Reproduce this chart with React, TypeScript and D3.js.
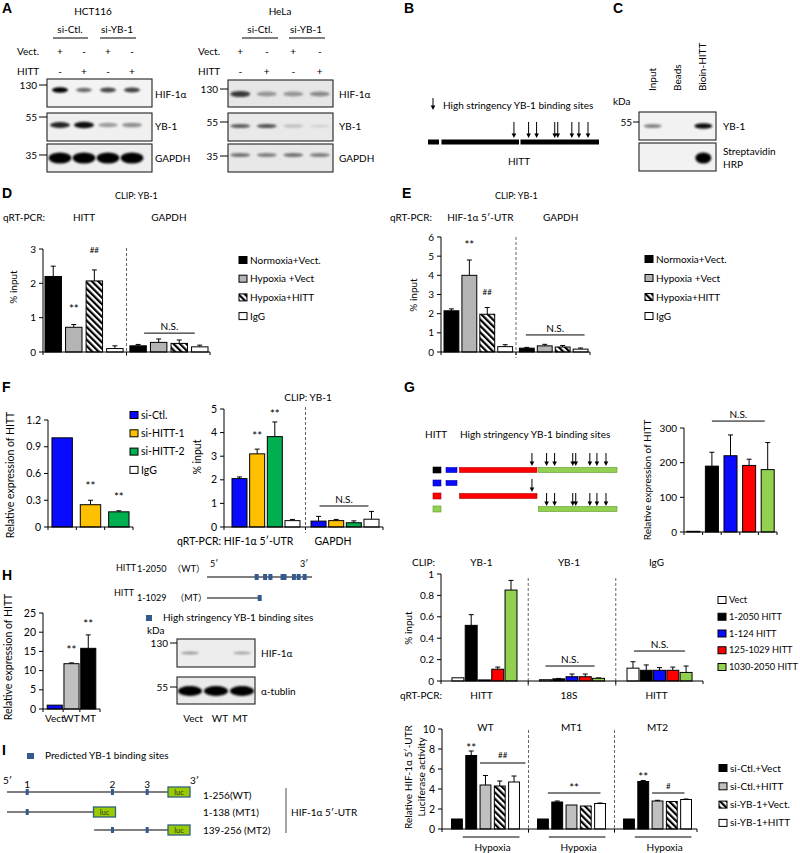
import React from "react";
import * as d3 from "d3";

const FONT = "Lato, 'Noto Sans', 'Noto Sans CJK SC', sans-serif";
const BOLD = "'Liberation Sans', Arial, sans-serif";
const FS = 10;

// ================= DATA =================
// Panel A
const laneVect = ["+", "-", "+", "-"];
const laneHitt = ["-", "+", "-", "+"];
const hctHif = [1.0, 0.55, 0.7, 0.72];
const hctYb1 = [0.85, 0.95, 0.35, 0.4];
const hctGapdh = [1, 1, 1, 1];
const helaHif = [0.75, 0.35, 0.35, 0.4];
const helaYb1 = [0.6, 0.65, 0.2, 0.1];
const helaGapdh = [0.5, 0.45, 0.5, 0.45];
// Panel B / G / H
const hittSegments = [[1, 124], [125, 1029], [1030, 2050]];
const bindingSites = [970, 1135, 1239, 1475, 1514, 1697, 1789, 1907];
// Panel C
const cLanes = ["Input", "Beads", "Bioin-HITT"];
const cYb1 = [0.45, 0, 0.95];
const cStrep = [0, 0, 1];
// Panel D
const dSeries = ["Normoxia+Vect.", "Hypoxia +Vect", "Hypoxia+HITT", "IgG"];
const dGroups = ["HITT", "GAPDH"];
const dValues = [[2.2, 0.72, 2.07, 0.1], [0.18, 0.28, 0.25, 0.15]];
const dErrors = [[0.3, 0.08, 0.32, 0.08], [0.04, 0.1, 0.1, 0.05]];
const dTicks = [0, 1, 2, 3];
// Panel E
const eGroups = ["HIF-1α 5′-UTR", "GAPDH"];
const eValues = [[2.15, 4.0, 1.97, 0.28], [0.2, 0.32, 0.26, 0.15]];
const eErrors = [[0.1, 0.8, 0.35, 0.1], [0.04, 0.08, 0.08, 0.06]];
const eTicks = [0, 1, 2, 3, 4, 5, 6];
// Panel F
const fSeries = ["si-Ctl.", "si-HITT-1", "si-HITT-2", "IgG"];
const fExprValues = [1.0, 0.25, 0.17];
const fExprErrors = [0, 0.05, 0.012];
const fExprTicks = [0, 0.3, 0.6, 0.9, 1.2];
const fClipValues = [[2.05, 3.1, 3.83, 0.27], [0.25, 0.27, 0.18, 0.33]];
const fClipErrors = [[0.07, 0.2, 0.62, 0.05], [0.2, 0.05, 0.08, 0.33]];
const fClipTicks = [0, 1, 2, 3, 4, 5];
// Panel G
const gSeries = ["Vect", "1-2050 HITT", "1-124 HITT", "125-1029 HITT", "1030-2050 HITT"];
const gExprValues = [2, 190, 220, 192, 180];
const gExprErrors = [0, 40, 60, 18, 78];
const gExprTicks = [0, 100, 200, 300];
const gClipTop = ["YB-1", "YB-1", "IgG"];
const gClipBottom = ["HITT", "18S", "HITT"];
const gClipValues = [
  [0.03, 0.52, 0.01, 0.11, 0.85],
  [0.012, 0.02, 0.04, 0.04, 0.025],
  [0.12, 0.1, 0.1, 0.1, 0.08],
];
const gClipErrors = [
  [0, 0.1, 0, 0.02, 0.09],
  [0, 0.004, 0.025, 0.025, 0.004],
  [0.06, 0.05, 0.025, 0.03, 0.06],
];
const gClipTicks = [0, 0.2, 0.4, 0.6, 0.8, 1];
// Panel H
const hCats = ["Vect", "WT", "MT"];
const hValues = [1, 11.8, 15.8];
const hErrors = [0, 0.2, 3.5];
const hTicks = [0, 5, 10, 15, 20, 25];
const hBlotHif = [0.35, 0, 0.3];
const hBlotTub = [1, 1, 1];
// Panel I
const utrConstructs = [[1, 256], [1, 138], [139, 256]];
const utrNames = ["1-256(WT)", "1-138 (MT1)", "139-256 (MT2)"];
const utrSites = [33, 168, 223];
const iSeries = ["si-Ctl.+Vect", "si-Ctl.+HITT", "si-YB-1+Vect.", "si-YB-1+HITT"];
const iGroups = ["WT", "MT1", "MT2"];
const iValues = [
  [1, 7.35, 4.4, 4.3, 4.7],
  [1, 2.7, 2.4, 2.3, 2.55],
  [1, 4.75, 2.8, 2.75, 2.95],
];
const iErrors = [
  [0, 0.45, 0.95, 0.5, 0.6],
  [0, 0.1, 0, 0, 0.05],
  [0, 0.1, 0.07, 0, 0.05],
];
const iTicks = [0, 2, 4, 6, 8, 10];

// ================= STYLE =================
const BLACK = "#000";
const GRAY = "#b4b4b4";
const HATCH = "url(#hatch)";
const WHITE = "#fff";
const BLUE = "#0a0aff";
const ORANGE = "#ffc000";
const GREEN = "#00b050";
const RED = "#ff0000";
const LGREEN = "#92d050";
const SITE = "#34598c";

const dFills = [BLACK, GRAY, HATCH, WHITE];
const fFills = [BLUE, ORANGE, GREEN, WHITE];
const gFills = [WHITE, BLACK, BLUE, RED, LGREEN];
const hFills = [BLUE, "#c0c0c0", BLACK];
const iFills = [BLACK, BLACK, "#c0c0c0", HATCH, WHITE];
const iLegendFills = [BLACK, "#c0c0c0", HATCH, WHITE];

type Api = {
  cx: (g: number, s: number) => number;
  x0: (g: number, s: number) => number;
  x1: (g: number, s: number) => number;
  gc: (g: number) => number;
  y: (v: number) => number;
  bw: number;
};

function BarChart(p: {
  left: number; right: number; bottom: number; top: number; max: number;
  ticks: number[]; fmt?: (v: number) => string;
  values: number[][]; errors: number[][];
  fill: (g: number, s: number) => string;
  range: [number, number]; gIn: number; gOut: number; sIn: number;
  dividerTop?: number; fontSize?: number;
  children?: (api: Api) => React.ReactNode;
}) {
  const y = d3.scaleLinear().domain([0, p.max]).range([p.bottom, p.top]);
  const ng = p.values.length;
  const ns = p.values[0].length;
  const gx = d3.scaleBand<number>().domain(d3.range(ng)).range(p.range).paddingInner(p.gIn).paddingOuter(p.gOut);
  const sx = d3.scaleBand<number>().domain(d3.range(ns)).range([0, gx.bandwidth()]).paddingInner(p.sIn);
  const bw = sx.bandwidth();
  const x0 = (g: number, s: number) => (gx(g) as number) + (sx(s) as number);
  const api: Api = {
    cx: (g, s) => x0(g, s) + bw / 2,
    x0,
    x1: (g, s) => x0(g, s) + bw,
    gc: (g) => (gx(g) as number) + gx.bandwidth() / 2,
    y,
    bw,
  };
  const bounds = d3.range(1, ng).map((i) => ((gx(i - 1) as number) + gx.bandwidth() + (gx(i) as number)) / 2);
  const fmtf = p.fmt || ((v: number) => String(v));
  const fs = p.fontSize || FS;
  return (
    <g>
      {p.dividerTop !== undefined &&
        bounds.map((b, i) => (
          <line key={"d" + i} x1={b} x2={b} y1={p.dividerTop} y2={p.bottom + 6} stroke="#666" strokeDasharray="3,2" strokeWidth={1} />
        ))}
      {p.values.map((row, g) =>
        row.map((v, s) => {
          const e = p.errors[g][s];
          const cx = api.cx(g, s);
          return (
            <g key={`${g}-${s}`}>
              {e > 0 && (
                <g stroke="#000" strokeWidth={1}>
                  <line x1={cx} x2={cx} y1={y(v)} y2={y(v + e)} />
                  <line x1={cx - 2.5} x2={cx + 2.5} y1={y(v + e)} y2={y(v + e)} />
                </g>
              )}
              <rect x={x0(g, s)} y={y(v)} width={bw} height={p.bottom - y(v)} fill={p.fill(g, s)} stroke="#000" strokeWidth={1} />
            </g>
          );
        })
      )}
      <line x1={p.left} x2={p.left} y1={p.bottom} y2={y(p.max)} stroke="#000" />
      {p.ticks.map((t) => (
        <g key={"t" + t}>
          <line x1={p.left - 4} x2={p.left} y1={y(t)} y2={y(t)} stroke="#000" />
          <text x={p.left - 7} y={y(t)} dy="0.35em" textAnchor="end" fontSize={fs}>{fmtf(t)}</text>
        </g>
      ))}
      <line x1={p.left} x2={p.right} y1={p.bottom} y2={p.bottom} stroke="#000" />
      {[p.left, ...bounds, p.right].map((b, i) => (
        <line key={"x" + i} x1={b} x2={b} y1={p.bottom} y2={p.bottom + 3} stroke="#000" />
      ))}
      {p.children && p.children(api)}
    </g>
  );
}

function Blot(p: { x: number; y: number; w: number; h: number; lane: (i: number) => number; bands: number[]; cy: number; rx: number; ry: number; bg: string }) {
  return (
    <g>
      <rect x={p.x} y={p.y} width={p.w} height={p.h} fill={p.bg} />
      {p.bands.map((v, i) =>
        v > 0 ? (
          <ellipse key={i} cx={p.lane(i)} cy={p.y + p.cy} rx={p.rx} ry={p.ry * (0.55 + 0.45 * v)} fill="#000" opacity={Math.min(1, v)} filter="url(#blur)" />
        ) : null
      )}
      <rect x={p.x} y={p.y} width={p.w} height={p.h} fill="none" stroke="#222" strokeWidth={1.1} />
    </g>
  );
}

function Arrow({ x, y1, y2 }: { x: number; y1: number; y2: number }) {
  return (
    <g>
      <line x1={x} x2={x} y1={y1} y2={y2 - 3} stroke="#000" strokeWidth={1} />
      <path d={`M${x - 2.3},${y2 - 4.5}L${x + 2.3},${y2 - 4.5}L${x},${y2}Z`} fill="#000" />
    </g>
  );
}

function Legend({ x, y, step, labels, fills, fs = FS }: { x: number; y: number; step: number; labels: string[]; fills: string[]; fs?: number }) {
  return (
    <g>
      {labels.map((l, i) => (
        <g key={l}>
          <rect x={x} y={y + i * step - 3.5} width={8} height={7} fill={fills[i]} stroke="#000" strokeWidth={1} />
          <text x={x + 11} y={y + i * step} dy="0.35em" fontSize={fs}>{l}</text>
        </g>
      ))}
    </g>
  );
}

function VLabel({ x, y, text, fs = FS }: { x: number; y: number; text: string; fs?: number }) {
  return (
    <text transform={`translate(${x},${y}) rotate(-90)`} textAnchor="middle" dy="0.35em" fontSize={fs}>{text}</text>
  );
}

function Stars({ x, y, t, fs = 11.5 }: { x: number; y: number; t: string; fs?: number }) {
  return <text x={x} y={y} textAnchor="middle" fontSize={fs}>{t}</text>;
}

function NS({ x1, x2, y, t = "N.S.", fs = FS }: { x1: number; x2: number; y: number; t?: string; fs?: number }) {
  return (
    <g>
      <line x1={x1} x2={x2} y1={y} y2={y} stroke="#000" strokeWidth={1} />
      <text x={(x1 + x2) / 2} y={y - 3} textAnchor="middle" fontSize={fs}>{t}</text>
    </g>
  );
}

const laneCenter = (sc: d3.ScaleBand<number>) => (i: number) => (sc(i) as number) + sc.bandwidth() / 2;

function Letter({ x, y, t }: { x: number; y: number; t: string }) {
  return <text x={x} y={y} fontFamily={BOLD} fontWeight="bold" fontSize={14}>{t}</text>;
}

export default function App() {
  const fmt1 = (v: number) => (v === 0 ? "0" : String(v));
  // lanes
  const hctLane = laneCenter(d3.scaleBand<number>().domain(d3.range(4)).range([48, 144]));
  const helaLane = laneCenter(d3.scaleBand<number>().domain(d3.range(4)).range([227, 333]));
  const cLane = laneCenter(d3.scaleBand<number>().domain(d3.range(3)).range([640, 716]));
  const hLane = laneCenter(d3.scaleBand<number>().domain(d3.range(3)).range([177, 255]));
  // diagram scales
  const segScale = (off: number) =>
    d3.scaleLinear().domain([1, 124, 125, 1029, 1030, 2050]).range([0, 11, 13.5, 91, 92.5, 171].map((v) => v + off));
  const bScale = segScale(428);
  const gScale = segScale(446);
  const hScale = d3.scaleLinear().domain([1, 2050]).range([207, 312]);
  const iScale = d3.scaleLinear().domain([1, 256]).range([7, 168]);
  const segColors = [BLUE, RED, LGREEN];
  const segStrokes = ["#0000aa", "#b00000", "#5f9a2a"];

  const blotHeader = (lane: (i: number) => number, vx: number) => (
    <g fontSize={FS}>
      <text x={vx} y={55}>Vect.</text>
      <text x={vx} y={75}>HITT</text>
      {laneVect.map((s, i) => <text key={"v" + i} x={lane(i)} y={55} textAnchor="middle">{s}</text>)}
      {laneHitt.map((s, i) => <text key={"h" + i} x={lane(i)} y={75} textAnchor="middle">{s}</text>)}
    </g>
  );

  return (
    <svg width={800} height={853} style={{ position: "absolute", left: 0, top: 0, background: "#fff" }} fontFamily={FONT}>
      <defs>
        <pattern id="hatch" patternUnits="userSpaceOnUse" width={4.5} height={4.5} patternTransform="rotate(-45)">
          <rect width={4.5} height={4.5} fill="#fff" />
          <rect width={2.2} height={4.5} fill="#000" />
        </pattern>
        <filter id="blur" x="-50%" y="-150%" width="200%" height="400%">
          <feGaussianBlur stdDeviation={1.3} />
        </filter>
      </defs>
      <rect width={800} height={853} fill="#fff" />

      {/* ============ A ============ */}
      <Letter x={2} y={13} t="A" />
      <text x={93} y={15} textAnchor="middle" fontSize={FS}>HCT116</text>
      <text x={70} y={33} textAnchor="middle" fontSize={FS}>si-Ctl.</text>
      <line x1={53} x2={88} y1={38} y2={38} stroke="#000" />
      <text x={117} y={33} textAnchor="middle" fontSize={FS}>si-YB-1</text>
      <line x1={100} x2={136} y1={38} y2={38} stroke="#000" />
      {blotHeader(hctLane, 17)}
      <Blot x={47} y={79} w={105} h={28} lane={hctLane} bands={hctHif} cy={11} rx={8} ry={2.8} bg="#f3f3f3" />
      <Blot x={47} y={113} w={105} h={28} lane={hctLane} bands={hctYb1} cy={12} rx={10} ry={3.2} bg="#f0f0f0" />
      <Blot x={47} y={144} w={105} h={28} lane={hctLane} bands={hctGapdh} cy={14} rx={11.5} ry={5.5} bg="#eeeeee" />
      <g fontSize={FS}>
        <text x={37} y={85} dy="0.35em" textAnchor="end">130</text>
        <line x1={39} x2={47} y1={85} y2={85} stroke="#000" />
        <text x={37} y={117} dy="0.35em" textAnchor="end">55</text>
        <line x1={39} x2={47} y1={117} y2={117} stroke="#000" />
        <text x={37} y={155} dy="0.35em" textAnchor="end">35</text>
        <line x1={39} x2={47} y1={155} y2={155} stroke="#000" />
        <text x={155} y={94} dy="0.35em">HIF-1α</text>
        <text x={155} y={126} dy="0.35em">YB-1</text>
        <text x={155} y={158} dy="0.35em">GAPDH</text>
      </g>

      <text x={280} y={15} textAnchor="middle" fontSize={FS}>HeLa</text>
      <text x={260} y={33} textAnchor="middle" fontSize={FS}>si-Ctl.</text>
      <line x1={242} x2={278} y1={38} y2={38} stroke="#000" />
      <text x={306} y={33} textAnchor="middle" fontSize={FS}>si-YB-1</text>
      <line x1={289} x2={325} y1={38} y2={38} stroke="#000" />
      {blotHeader(helaLane, 198)}
      <Blot x={228} y={80} w={105} h={27} lane={helaLane} bands={helaHif} cy={14} rx={10} ry={3.5} bg="#e6e6e6" />
      <Blot x={228} y={113} w={105} h={28} lane={helaLane} bands={helaYb1} cy={13} rx={10} ry={2.5} bg="#e9e9e9" />
      <Blot x={228} y={144} w={105} h={28} lane={helaLane} bands={helaGapdh} cy={11} rx={10} ry={2.6} bg="#e8e8e8" />
      <g fontSize={FS}>
        <text x={218} y={89} dy="0.35em" textAnchor="end">130</text>
        <line x1={220} x2={228} y1={89} y2={89} stroke="#000" />
        <text x={218} y={122} dy="0.35em" textAnchor="end">55</text>
        <line x1={220} x2={228} y1={122} y2={122} stroke="#000" />
        <text x={218} y={156} dy="0.35em" textAnchor="end">35</text>
        <line x1={220} x2={228} y1={156} y2={156} stroke="#000" />
        <text x={339} y={94} dy="0.35em">HIF-1α</text>
        <text x={339} y={126} dy="0.35em">YB-1</text>
        <text x={339} y={158} dy="0.35em">GAPDH</text>
      </g>

      {/* ============ B ============ */}
      <Letter x={404} y={13} t="B" />
      <Arrow x={433} y1={98} y2={110} />
      <text x={443} y={109} fontSize={FS}>High stringency YB-1 binding sites</text>
      {hittSegments.map((sg, i) => (
        <rect key={i} x={bScale(sg[0])} y={139.5} width={bScale(sg[1]) - bScale(sg[0])} height={5} fill="#000" />
      ))}
      {bindingSites.map((s, i) => <Arrow key={i} x={bScale(s)} y1={122} y2={138} />)}
      <text x={519} y={165} textAnchor="middle" fontSize={FS}>HITT</text>

      {/* ============ C ============ */}
      <Letter x={613} y={13} t="C" />
      {cLanes.map((l, i) => (
        <text key={l} transform={`translate(${cLane(i) + 3},${91}) rotate(-90)`} fontSize={FS}>{l}</text>
      ))}
      <text x={613} y={105} fontSize={FS}>kDa</text>
      <Blot x={639} y={112} w={77} h={28} lane={cLane} bands={cYb1} cy={14} rx={9} ry={2.8} bg="#f2f2f2" />
      <Blot x={639} y={143} w={77} h={28} lane={cLane} bands={cStrep} cy={15} rx={8} ry={5.5} bg="#f2f2f2" />
      <text x={632} y={122} dy="0.35em" textAnchor="end" fontSize={FS}>55</text>
      <line x1={633} x2={639} y1={122} y2={122} stroke="#000" />
      <text x={723} y={126} dy="0.35em" fontSize={FS}>YB-1</text>
      <text x={723} y={151} dy="0.35em" fontSize={FS}>Streptavidin</text>
      <text x={723} y={164} dy="0.35em" fontSize={FS}>HRP</text>

      {/* ============ D ============ */}
      <Letter x={2} y={198} t="D" />
      <text x={115} y={199} fontSize={9}>CLIP: YB-1</text>
      <text x={3} y={221} fontSize={FS}>qRT-PCR:</text>
      <BarChart left={43} right={210} bottom={352} top={249} max={3} ticks={dTicks}
        values={dValues} errors={dErrors} fill={(g, s) => dFills[s]}
        range={[45, 208]} gIn={0.08} gOut={0} sIn={0.2} dividerTop={248}>
        {(a) => (
          <g>
            {dGroups.map((g, i) => <text key={g} x={a.gc(i)} y={221} textAnchor="middle" fontSize={FS}>{g}</text>)}
            <Stars x={a.cx(0, 1)} y={a.y(1.15)} t="**" />
            <Stars x={a.cx(0, 2)} y={a.y(2.87)} t="##" fs={8} />
            <NS x1={a.cx(1, 0) + 6} x2={a.cx(1, 3) - 5} y={a.y(0.55)} />
          </g>
        )}
      </BarChart>
      <VLabel x={13} y={287} text="% input" />
      <Legend x={239} y={260} step={18.7} labels={dSeries} fills={dFills} />

      {/* ============ E ============ */}
      <Letter x={402} y={198} t="E" />
      <text x={495} y={199} fontSize={9}>CLIP: YB-1</text>
      <text x={390} y={221} fontSize={FS}>qRT-PCR:</text>
      <BarChart left={441} right={590} bottom={352} top={237} max={6} ticks={eTicks}
        values={eValues} errors={eErrors} fill={(g, s) => dFills[s]}
        range={[444, 588]} gIn={0.09} gOut={0} sIn={0.17} dividerTop={237}>
        {(a) => (
          <g>
            {eGroups.map((g, i) => <text key={g} x={a.gc(i) + (i === 0 ? 2 : 7)} y={221} textAnchor="middle" fontSize={FS}>{g}</text>)}
            <Stars x={a.cx(0, 1)} y={a.y(5.4)} t="**" />
            <Stars x={a.cx(0, 2)} y={a.y(2.95)} t="##" fs={8} />
            <NS x1={a.cx(1, 0) - 1} x2={a.cx(1, 3) + 4} y={a.y(0.89)} />
          </g>
        )}
      </BarChart>
      <VLabel x={413} y={295} text="% input" />
      <Legend x={645} y={259} step={19} labels={dSeries} fills={dFills} />

      {/* ============ F ============ */}
      <Letter x={2} y={392} t="F" />
      <BarChart left={48} right={133} bottom={527} top={420} max={1.2} ticks={fExprTicks} fmt={fmt1}
        values={fExprValues.map((v) => [v])} errors={fExprErrors.map((e) => [e])} fill={(g) => fFills[g]}
        range={[48, 133]} gIn={0.28} gOut={0.14} sIn={0} fontSize={10.5}>
        {(a) => (
          <g>
            <Stars x={a.cx(1, 0)} y={a.y(0.41)} t="**" />
            <Stars x={a.cx(2, 0)} y={a.y(0.29)} t="**" />
          </g>
        )}
      </BarChart>
      <VLabel x={10} y={475} text="Relative expression of HITT" fs={10.5} />
      <Legend x={130} y={415} step={18.3} labels={fSeries} fills={fFills} fs={10.5} />
      <text x={308} y={401} textAnchor="middle" fontSize={FS}>CLIP:  YB-1</text>
      <BarChart left={224} right={383} bottom={527} top={409} max={5} ticks={fClipTicks} fontSize={10.5}
        values={fClipValues} errors={fClipErrors} fill={(g, s) => fFills[s]}
        range={[232, 379]} gIn={0.14} gOut={0} sIn={0.15} dividerTop={407}>
        {(a) => (
          <g>
            <Stars x={a.cx(0, 1)} y={a.y(3.67)} t="**" />
            <Stars x={a.cx(0, 2)} y={a.y(4.6)} t="**" />
            <NS x1={a.cx(1, 0) + 1} x2={a.cx(1, 3) - 3} y={a.y(0.89)} />
          </g>
        )}
      </BarChart>
      <VLabel x={197} y={457} text="% input" fs={10.5} />
      <text x={177} y={545} fontSize={10.5}>qRT-PCR:  HIF-1α 5′-UTR</text>
      <text x={333} y={545} textAnchor="middle" fontSize={10.5}>GAPDH</text>

      {/* ============ G ============ */}
      <Letter x={404} y={392} t="G" />
      <text x={425} y={438} fontSize={FS}>HITT</text>
      <text x={460} y={438} fontSize={FS}>High stringency YB-1 binding sites</text>
      {[BLACK, BLUE, RED, LGREEN].map((c, i) => (
        <rect key={"m" + i} x={433} y={[470, 483, 496, 509][i] - 3} width={8} height={6} fill={c} stroke={i === 0 ? "#000" : segStrokes[i - 1]} strokeWidth={0.6} />
      ))}
      {hittSegments.map((sg, i) => (
        <rect key={"r1" + i} x={gScale(sg[0])} y={467.5} width={gScale(sg[1]) - gScale(sg[0])} height={5} fill={segColors[i]} stroke={segStrokes[i]} strokeWidth={0.6} />
      ))}
      {[0, 1, 2].map((i) => {
        const sg = hittSegments[i];
        const yy = [483, 496, 509][i];
        return <rect key={"r" + i} x={gScale(sg[0])} y={yy - 2.5} width={gScale(sg[1]) - gScale(sg[0])} height={5} fill={segColors[i]} stroke={segStrokes[i]} strokeWidth={0.6} />;
      })}
      {bindingSites.map((s, i) => <Arrow key={"ga" + i} x={gScale(s)} y1={453} y2={466} />)}
      {bindingSites.filter((s) => s <= 1029).map((s, i) => <Arrow key={"gb" + i} x={gScale(s)} y1={479} y2={492} />)}
      {bindingSites.filter((s) => s >= 1030).map((s, i) => <Arrow key={"gc" + i} x={gScale(s)} y1={493} y2={506} />)}

      <BarChart left={684} right={777} bottom={532} top={428} max={300} ticks={gExprTicks}
        values={gExprValues.map((v) => [v])} errors={gExprErrors.map((e) => [e])} fill={(g) => gFills[g]}
        range={[684, 777]} gIn={0.3} gOut={0.15} sIn={0}>
        {(a) => <NS x1={a.cx(1, 0)} x2={a.cx(4, 0) - 3} y={a.y(320)} />}
      </BarChart>
      <VLabel x={647} y={480} text="Relative expression of HITT" />

      <text x={412} y={566} fontSize={FS}>CLIP:</text>
      <text x={400} y={699} fontSize={FS}>qRT-PCR:</text>
      <BarChart left={441} right={703} bottom={681} top={574} max={1} ticks={gClipTicks} fmt={fmt1}
        values={gClipValues} errors={gClipErrors} fill={(g, s) => gFills[s]}
        range={[441, 703]} gIn={0.257} gOut={0.125} sIn={0.1} dividerTop={578}>
        {(a) => (
          <g>
            {gClipTop.map((t, i) => <text key={"t" + i} x={a.gc(i) - 3} y={566} textAnchor="middle" fontSize={FS}>{t}</text>)}
            {gClipBottom.map((t, i) => <text key={"b" + i} x={a.gc(i) - 3} y={699} textAnchor="middle" fontSize={FS}>{t}</text>)}
            <NS x1={a.cx(1, 0)} x2={a.cx(1, 4) - 4} y={a.y(0.14)} />
            <NS x1={a.cx(2, 0) + 1} x2={a.cx(2, 4) - 1} y={a.y(0.28)} />
          </g>
        )}
      </BarChart>
      <VLabel x={408} y={628} text="% input" />
      <Legend x={718} y={600} step={16.75} labels={gSeries} fills={gFills} fs={9.2} />

      {/* ============ H ============ */}
      <Letter x={2} y={580} t="H" />
      <BarChart left={43} right={100} bottom={709} top={613} max={25} ticks={hTicks} fontSize={10.5}
        values={hValues.map((v) => [v])} errors={hErrors.map((e) => [e])} fill={(g) => hFills[g]}
        range={[43, 100]} gIn={0.1} gOut={0.25} sIn={0}>
        {(a) => (
          <g>
            {hCats.map((c, i) => <text key={c} x={a.cx(i, 0)} y={722} textAnchor="middle" fontSize={FS}>{c}</text>)}
            <Stars x={a.cx(1, 0)} y={a.y(14.2)} t="**" />
            <Stars x={a.cx(2, 0)} y={a.y(21)} t="**" />
          </g>
        )}
      </BarChart>
      <VLabel x={8} y={657} text="Relative expression of HITT" fs={10.5} />
      {/* HITT constructs */}
      <g fontSize={9}>
        <text x={116} y={571}>HITT</text>
        <text x={137} y={572}>1-2050</text>
        <text x={205} y={572} textAnchor="end">（WT）</text>
        <text x={114} y={596}>HITT</text>
        <text x={137} y={601}>1-1029</text>
        <text x={207} y={601} textAnchor="end">（MT）</text>
        <text x={210} y={567}>5′</text>
        <text x={300} y={567}>3′</text>
      </g>
      <line x1={hScale(1)} x2={hScale(2050)} y1={577} y2={577} stroke="#000" strokeWidth={1.2} />
      {bindingSites.map((s, i) => <rect key={"hs" + i} x={hScale(s) - 2} y={574} width={4} height={6} fill={SITE} />)}
      <line x1={hScale(1)} x2={hScale(1029)} y1={598} y2={598} stroke="#000" strokeWidth={1.2} />
      {bindingSites.filter((s) => s <= 1029).map((s, i) => <rect key={"hm" + i} x={hScale(1029) - 2} y={595} width={4} height={6} fill={SITE} />)}
      <rect x={146} y={615} width={6} height={6} fill={SITE} />
      <text x={163} y={621} fontSize={FS}>High stringency YB-1 binding sites</text>
      <text x={147} y={634} fontSize={FS}>kDa</text>
      <Blot x={177} y={639} w={78} h={28} lane={hLane} bands={hBlotHif} cy={14} rx={9} ry={2.2} bg="#ededed" />
      <Blot x={177} y={677} w={78} h={27} lane={hLane} bands={hBlotTub} cy={14} rx={12} ry={5} bg="#eaeaea" />
      <text x={168} y={643} dy="0.35em" textAnchor="end" fontSize={FS}>130</text>
      <line x1={170} x2={177} y1={643} y2={643} stroke="#000" />
      <text x={168} y={687} dy="0.35em" textAnchor="end" fontSize={FS}>55</text>
      <line x1={170} x2={177} y1={687} y2={687} stroke="#000" />
      <text x={261} y={653} dy="0.35em" fontSize={FS}>HIF-1α</text>
      <text x={261} y={691} dy="0.35em" fontSize={FS}>α-tublin</text>
      {hCats.map((c, i) => <text key={"hl" + c} x={hLane(i) + (i === 0 ? 3 : i === 1 ? 4 : -2)} y={722} textAnchor="middle" fontSize={FS}>{c}</text>)}

      {/* ============ I ============ */}
      <Letter x={2} y={755} t="I" />
      <rect x={27} y={753} width={7} height={6} fill={SITE} />
      <text x={45} y={759} fontSize={FS}>Predicted YB-1 binding sites</text>
      <text x={3} y={784} fontSize={FS}>5′</text>
      <text x={190} y={784} fontSize={FS}>3′</text>
      {utrSites.map((s, i) => <text key={"n" + i} x={iScale(s)} y={788} textAnchor="middle" fontSize={FS}>{i + 1}</text>)}
      {utrConstructs.map((c, r) => {
        const yy = [792, 812, 830][r];
        const xe = iScale(c[1]);
        return (
          <g key={"u" + r}>
            <line x1={iScale(c[0])} x2={xe} y1={yy} y2={yy} stroke="#000" strokeWidth={1.2} />
            {utrSites.filter((s) => s >= c[0] && s <= c[1]).map((s, j) => (
              <rect key={j} x={iScale(s) - 1.5} y={yy - 3} width={3} height={6} fill={SITE} />
            ))}
            <rect x={xe} y={yy - 5} width={22} height={10} fill="#99cc00" stroke="#31607f" strokeWidth={1.3} />
            <text x={xe + 11} y={yy} dy="0.35em" textAnchor="middle" fontSize={7.5} fill="#333">luc</text>
            <text x={203} y={[795, 812, 830][r]} dy="0.35em" fontSize={FS}>{utrNames[r]}</text>
          </g>
        );
      })}
      <line x1={286} x2={286} y1={788} y2={833} stroke="#888" strokeWidth={1.5} />
      <text x={291} y={812} dy="0.35em" fontSize={FS}>HIF-1α 5′-UTR</text>

      <BarChart left={442} right={697} bottom={829} top={729} max={10} ticks={iTicks} fontSize={10.5}
        values={iValues} errors={iErrors} fill={(g, s) => iFills[s]}
        range={[446, 697]} gIn={0.21} gOut={0.064} sIn={0.24} dividerTop={730}>
        {(a) => (
          <g>
            {iGroups.map((t, i) => <text key={t} x={a.gc(i)} y={731} textAnchor="middle" fontSize={FS}>{t}</text>)}
            {iGroups.map((t, i) => (
              <g key={"hx" + t}>
                <line x1={a.x0(i, 1) - 3} x2={a.x1(i, 4)} y1={837} y2={837} stroke="#000" />
                <text x={(a.x0(i, 1) + a.x1(i, 4)) / 2} y={851} textAnchor="middle" fontSize={FS}>Hypoxia</text>
              </g>
            ))}
            <Stars x={a.cx(0, 1)} y={a.y(7.75)} t="**" />
            <line x1={a.x0(0, 2)} x2={a.x1(0, 4) + 6} y1={a.y(6.6)} y2={a.y(6.6)} stroke="#000" />
            <Stars x={(a.x0(0, 2) + a.x1(0, 4) + 6) / 2} y={a.y(7.1)} t="##" fs={8} />
            <line x1={a.x0(1, 1) - 4} x2={a.x1(1, 4) - 5} y1={a.y(3.6)} y2={a.y(3.6)} stroke="#000" />
            <Stars x={(a.x0(1, 1) + a.x1(1, 4) - 9) / 2} y={a.y(3.75)} t="**" />
            <Stars x={a.cx(2, 1)} y={a.y(4.85)} t="**" />
            <line x1={a.x0(2, 2)} x2={a.x1(2, 4) - 7} y1={a.y(3.6)} y2={a.y(3.6)} stroke="#000" />
            <Stars x={(a.x0(2, 2) + a.x1(2, 4) - 7) / 2} y={a.y(4.0)} t="#" fs={8} />
          </g>
        )}
      </BarChart>
      <VLabel x={408} y={777} text="Relative HIF-1α 5′-UTR" />
      <VLabel x={421} y={777} text="Luciferase activity" />
      <Legend x={719} y={768} step={18.3} labels={iSeries} fills={iLegendFills} />
    </svg>
  );
}
